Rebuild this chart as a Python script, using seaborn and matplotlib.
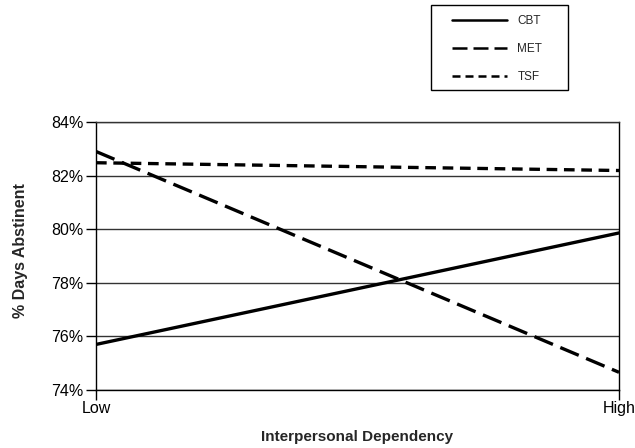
import matplotlib
matplotlib.use("Agg")
import matplotlib.pyplot as plt
import seaborn as sns
import pandas as pd
from matplotlib.patches import Rectangle
from matplotlib.ticker import FuncFormatter

# Predicted % days abstinent by treatment at low / high interpersonal dependency
levels = ["Low", "High"]
level_pos = [0, 1]
cbt = [75.7, 79.86]
met = [82.9, 74.66]
tsf = [82.48, 82.19]
treatments = ["CBT", "MET", "TSF"]

df = pd.DataFrame({
    "x": level_pos * 3,
    "value": cbt + met + tsf,
    "Treatment": [t for t in treatments for _ in level_pos],
})

sns.set_theme(style="white")
plt.rcParams["font.family"] = ["Liberation Sans", "DejaVu Sans"]

W, H = 635, 448
fig = plt.figure(figsize=(W / 100, H / 100), dpi=100)
ax = fig.add_axes([96 / W, 1 - 390 / H, (619 - 96) / W, (390 - 122) / H])

dash_styles = {"CBT": "", "MET": (6, 2.4), "TSF": (3.2, 2.0)}
sns.lineplot(data=df, x="x", y="value", hue="Treatment", style="Treatment",
             palette={t: "black" for t in treatments}, dashes=dash_styles,
             linewidth=2.4, ax=ax, legend=True)

ax.set_xlim(0, 1)
ax.set_ylim(74, 84)
ax.set_yticks([74, 76, 78, 80, 82, 84])
ax.yaxis.set_major_formatter(FuncFormatter(lambda v, p: f"{v:.0f}%"))
ax.set_xticks(level_pos)
ax.set_xticklabels(levels)
ax.grid(axis="y", color="#333333", linewidth=1.0)
ax.set_axisbelow(True)
for s in ax.spines.values():
    s.set_color("black")
    s.set_linewidth(1.0)
ax.spines["top"].set_color("#333333")

ax.tick_params(axis="both", which="major", direction="out", length=7, width=1,
               color="black", labelsize=11.5, labelcolor="black", pad=2,
               bottom=True, left=True)
ax.tick_params(axis="x", pad=1)
ax.set_xlabel("Interpersonal Dependency", fontsize=11, fontweight="bold", labelpad=10)
ax.set_ylabel("% Days Abstinent", fontsize=11.5, fontweight="bold")
ax.yaxis.set_label_coords(-0.13, 0.52)

# Legend: entries without frame, box drawn separately in figure pixels
handles, labels = ax.get_legend_handles_labels()
ax.get_legend().remove()
leg = fig.legend(handles, labels, loc="upper left",
                 bbox_to_anchor=(446 / W, 1 - 9 / H), bbox_transform=fig.transFigure,
                 frameon=False, handlelength=4.7, handletextpad=0.85,
                 labelspacing=1.38, borderpad=0.5, borderaxespad=0, fontsize=8.5)
for h in leg.get_lines():
    h.set_linewidth(1.8)
fig.add_artist(Rectangle((431 / W, 1 - 90 / H), (568 - 431) / W, (90 - 5) / H,
                         transform=fig.transFigure, fill=False,
                         edgecolor="black", linewidth=1.0))

fig.savefig("out.png", dpi=100)
